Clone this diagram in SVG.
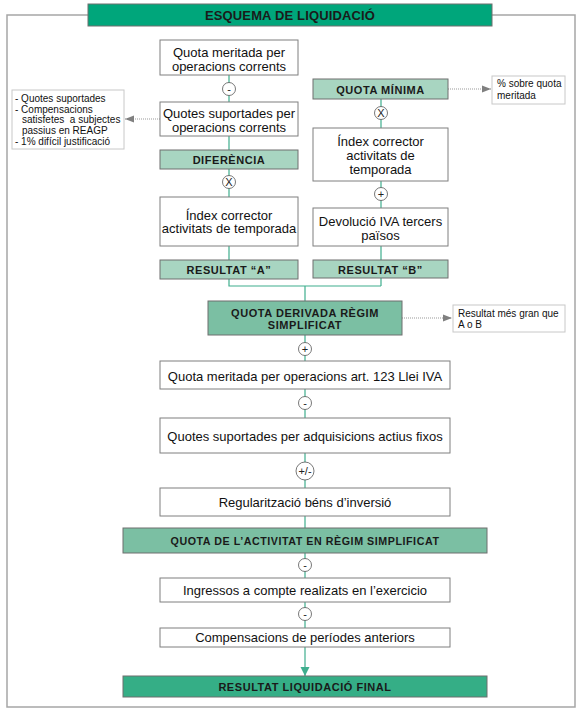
<svg xmlns="http://www.w3.org/2000/svg" width="581" height="714" viewBox="0 0 581 714">
<defs>
<style>
.box{fill:#fff;stroke:#7f7f7f;stroke-width:1}
.light{fill:#a8d5c1;stroke:#6f6f6f;stroke-width:1}
.mid{fill:#7bbfa3;stroke:#6f6f6f;stroke-width:1}
.dark{fill:#35ae86;stroke:#6f6f6f;stroke-width:1}
.title{fill:#00a67b;stroke:#6f6f6f;stroke-width:1}
.note{fill:#fff;stroke:#c8c8c8;stroke-width:1}
.t{font-family:"Liberation Sans",Arial,sans-serif;font-size:13px;fill:#111;text-anchor:middle}
.h{font-family:"Liberation Sans",Arial,sans-serif;font-size:11px;font-weight:bold;letter-spacing:0.55px;fill:#1a1a1a;text-anchor:middle}
.n{font-family:"Liberation Sans",Arial,sans-serif;font-size:10px;fill:#111;white-space:pre}
.op{fill:#fff;stroke:#555;stroke-width:0.8}
.opt{font-family:"Liberation Sans",Arial,sans-serif;font-size:11px;fill:#222;text-anchor:middle}
.c{fill:none;stroke:#3fae8e;stroke-width:1.2}
.d{fill:none;stroke:#999;stroke-width:1;stroke-dasharray:1 1}
.frame{fill:none;stroke:#a6a6a6;stroke-width:1.5}
</style>
<marker id="ga" viewBox="0 0 10 10" refX="10" refY="5" markerWidth="9" markerHeight="9" markerUnits="userSpaceOnUse" orient="auto"><path d="M0,1 L10,5 L0,9 Z" fill="#808080"/></marker>
<marker id="ca" viewBox="0 0 10 10" refX="10" refY="5" markerWidth="9" markerHeight="10" markerUnits="userSpaceOnUse" orient="auto"><path d="M0,0 L10,5 L0,10 Z" fill="#3fae8e"/></marker>
</defs>

<path class="frame" d="M88,15 H7 V707 H575 V15 H492"/>

<g id="connectors">
<path class="c" d="M229,75 V102 M229,136 V150 M229,169 V197 M229,246 V260 M229,279 V286 H381 M381,99 V128 M381,181 V208 M381,246 V260 M381,278 V286 M305,286 V301 M305,335 V361 M305,389 V418 M305,453 V488 M305,516 V528 M305,553 V578 M305,602 V628"/>
<path class="c" d="M305,647 V676" marker-end="url(#ca)"/>
<path class="d" d="M160,119 H125" marker-end="url(#ga)"/>
<path class="d" d="M448,89 H491" marker-end="url(#ga)"/>
<path class="d" d="M402,318 H452" marker-end="url(#ga)"/>
</g>

<g id="title"><rect class="title" x="88" y="4" width="404" height="22"/><text class="h" x="290" y="19.5" style="font-size:13px;letter-spacing:0.15px">ESQUEMA DE LIQUIDACIÓ</text></g>

<g id="quota-meritada"><rect class="box" x="160" y="40" width="138" height="35"/><text class="t" x="229" y="56.5">Quota meritada per</text><text class="t" x="229" y="70.5">operacions corrents</text></g>

<g id="op1"><circle class="op" cx="229" cy="89" r="6.5"/><text class="opt" x="229" y="92.5">-</text></g>

<g id="quotes-suportades"><rect class="box" x="160" y="102" width="138" height="34"/><text class="t" x="229" y="117.5">Quotes suportades per</text><text class="t" x="229" y="131.5">operacions corrents</text></g>

<g id="note-left"><rect class="note" x="12" y="90" width="112" height="59"/>
<text class="n" x="15" y="101.5">- Quotes suportades</text>
<text class="n" x="15" y="112.5">- Compensacions</text>
<text class="n" x="22" y="123" xml:space="preserve">satisfetes  a subjectes</text>
<text class="n" x="22" y="133.5">passius en REAGP</text>
<text class="n" x="15" y="144.5">- 1% difícil justificació</text></g>

<g id="diferencia"><rect class="light" x="160" y="150" width="138" height="19"/><text class="h" x="229" y="164">DIFERÈNCIA</text></g>

<g id="op2"><circle class="op" cx="229" cy="182" r="6.5"/><text class="opt" x="229" y="186">X</text></g>

<g id="index-a"><rect class="box" x="160" y="197" width="138" height="49"/><text class="t" x="229" y="219.5">Índex corrector</text><text class="t" x="229" y="233">activitats de temporada</text></g>

<g id="resultat-a"><rect class="light" x="160" y="260" width="138" height="19"/><text class="h" x="229" y="274">RESULTAT “A”</text></g>

<g id="quota-minima"><rect class="light" x="313" y="79" width="135" height="20"/><text class="h" x="380.5" y="93.5">QUOTA MÍNIMA</text></g>

<g id="note-minima"><rect class="note" x="492" y="76" width="73" height="28"/><text class="n" x="497" y="87">% sobre quota</text><text class="n" x="497" y="99">meritada</text></g>

<g id="op3"><circle class="op" cx="381" cy="113" r="6.5"/><text class="opt" x="381" y="117">X</text></g>

<g id="index-b"><rect class="box" x="313" y="128" width="135" height="53"/><text class="t" x="380.5" y="145.5">Índex corrector</text><text class="t" x="380.5" y="159.5">activitats de</text><text class="t" x="380.5" y="173.5">temporada</text></g>

<g id="op4"><circle class="op" cx="381" cy="194" r="6.5"/><text class="opt" x="381" y="198">+</text></g>

<g id="devolucio"><rect class="box" x="313" y="208" width="135" height="38"/><text class="t" x="380.5" y="225.5">Devolució IVA tercers</text><text class="t" x="380.5" y="239.5">països</text></g>

<g id="resultat-b"><rect class="light" x="313" y="260" width="135" height="18"/><text class="h" x="380.5" y="273.5">RESULTAT “B”</text></g>

<g id="quota-derivada"><rect class="mid" x="208" y="301" width="194" height="34"/><text class="h" x="305" y="317">QUOTA DERIVADA RÈGIM</text><text class="h" x="305" y="328.5">SIMPLIFICAT</text></g>

<g id="note-derivada"><rect class="note" x="453" y="305" width="112" height="27"/><text class="n" x="458" y="316.5">Resultat més gran que</text><text class="n" x="458" y="328">A o B</text></g>

<g id="op5"><circle class="op" cx="305" cy="349" r="6.5"/><text class="opt" x="305" y="353">+</text></g>

<g id="quota-123"><rect class="box" x="160" y="361" width="290" height="28"/><text class="t" x="305" y="380.5">Quota meritada per operacions art. 123 Llei IVA</text></g>

<g id="op6"><circle class="op" cx="305" cy="403" r="6.5"/><text class="opt" x="305" y="406.5">-</text></g>

<g id="actius-fixos"><rect class="box" x="160" y="418" width="290" height="35"/><text class="t" x="305" y="440.5">Quotes suportades per adquisicions actius fixos</text></g>

<g id="op7"><circle class="op" cx="305" cy="471" r="9"/><text class="opt" x="305" y="475">+/-</text></g>

<g id="regularitzacio"><rect class="box" x="160" y="488" width="290" height="28"/><text class="t" x="305" y="506.5">Regularització béns d’inversió</text></g>

<g id="quota-activitat"><rect class="mid" x="123" y="528" width="364" height="25"/><text class="h" x="305" y="544.5" style="font-size:10.7px">QUOTA DE L’ACTIVITAT EN RÈGIM SIMPLIFICAT</text></g>

<g id="op8"><circle class="op" cx="305" cy="565" r="6.5"/><text class="opt" x="305" y="568.5">-</text></g>

<g id="ingressos"><rect class="box" x="160" y="578" width="290" height="24"/><text class="t" x="305" y="594.5">Ingressos a compte realizats en l’exercicio</text></g>

<g id="op9"><circle class="op" cx="305" cy="614" r="6.5"/><text class="opt" x="305" y="617.5">-</text></g>

<g id="compensacions"><rect class="box" x="160" y="628" width="290" height="19"/><text class="t" x="305" y="641.5">Compensacions de períodes anteriors</text></g>

<g id="resultat-final"><rect class="dark" x="123" y="676" width="364" height="21"/><text class="h" x="305" y="691">RESULTAT LIQUIDACIÓ FINAL</text></g>
</svg>
